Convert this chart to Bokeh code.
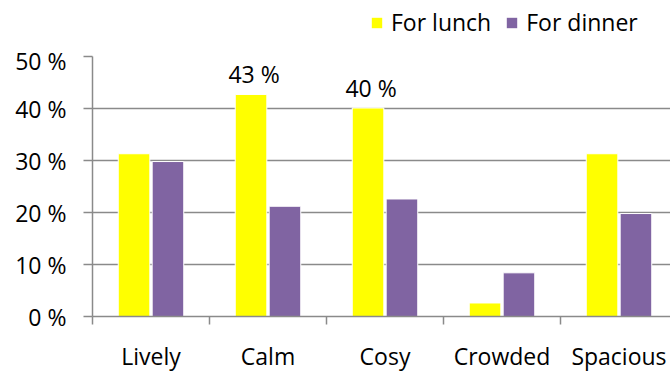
from bokeh.plotting import figure
from bokeh.layouts import column
from bokeh.models import Range1d, FixedTicker, Legend, LegendItem, ColumnDataSource
from bokeh.transform import dodge
from bokeh.core.properties import value
from bokeh.embed import file_html
from bokeh.resources import INLINE

categories = ["Lively", "Calm", "Cosy", "Crowded", "Spacious"]
lunch = [31.3, 42.7, 40.1, 2.6, 31.3]
dinner = [29.8, 21.2, 22.6, 8.4, 19.8]
series_names = ["For lunch", "For dinner"]
y_ticks = [0, 10, 20, 30, 40, 50]
y_tick_labels = ["0 %", "10 %", "20 %", "30 %", "40 %", "50 %"]
label_categories = ["Calm", "Cosy"]
label_values = [42.7, 40.1]
label_texts = ["43 %", "40 %"]

FONT = "Open Sans"
FS = "23px"
GRAY = "#8a8a8a"
YELLOW = "#FFFF00"
PURPLE = "#8064A2"

centers = [categories.index(c) + 0.5 for c in categories]
src = ColumnDataSource(dict(x=centers, lunch=lunch, dinner=dinner))

# ---- main chart ----
p = figure(width=670, height=330, x_range=Range1d(0, 578 / 117), y_range=Range1d(0, 50),
           output_backend="svg", toolbar_location=None,
           min_border_left=92, min_border_right=0, min_border_top=12, min_border_bottom=57)
p.outline_line_color = None
p.background_fill_color = "white"
p.border_fill_color = "white"

p.vbar(x=dodge("x", -0.145, range=p.x_range), top="lunch", width=0.27, source=src,
       fill_color=YELLOW, line_color="white", line_width=1)
p.vbar(x=dodge("x", 0.145, range=p.x_range), top="dinner", width=0.27, source=src,
       fill_color=PURPLE, line_color="white", line_width=1)

lab_src = ColumnDataSource(dict(
    x=[categories.index(c) + 0.5 - 0.145 for c in label_categories],
    y=label_values, t=label_texts))
p.text(x="x", y="y", text="t", source=lab_src, text_align="center", text_baseline="alphabetic",
       x_offset=3, y_offset=-20, text_font=value(FONT), text_font_size=FS, text_color="black")

# y axis
p.yaxis.ticker = FixedTicker(ticks=y_ticks)
p.yaxis.major_label_overrides = {t: l for t, l in zip(y_ticks, y_tick_labels)}
p.yaxis.axis_line_color = GRAY
p.yaxis.axis_line_width = 1.5
p.yaxis.major_tick_line_color = GRAY
p.yaxis.major_tick_line_width = 1.5
p.yaxis.major_tick_out = 9
p.yaxis.major_tick_in = 0
p.yaxis.minor_tick_line_color = None
p.yaxis.major_label_standoff = 17
p.yaxis.major_label_text_font = FONT
p.yaxis.major_label_text_font_size = FS
p.yaxis.major_label_text_color = "black"

# x axis
p.xaxis.ticker = FixedTicker(ticks=centers, minor_ticks=list(range(len(categories) + 1)))
p.xaxis.major_label_overrides = {c: n for c, n in zip(centers, categories)}
p.xaxis.axis_line_color = GRAY
p.xaxis.axis_line_width = 1.5
p.xaxis.major_tick_line_color = None
p.xaxis.major_tick_out = 0
p.xaxis.major_tick_in = 0
p.xaxis.minor_tick_line_color = GRAY
p.xaxis.minor_tick_line_width = 1.5
p.xaxis.minor_tick_out = 8
p.xaxis.minor_tick_in = 0
p.xaxis.major_label_standoff = 15
p.xaxis.major_label_text_font = FONT
p.xaxis.major_label_text_font_size = FS
p.xaxis.major_label_text_color = "black"

p.xgrid.grid_line_color = None
p.ygrid.ticker = FixedTicker(ticks=y_ticks)
p.ygrid.grid_line_color = GRAY
p.ygrid.grid_line_width = 1.5

# ---- legend strip (its frame is aligned with the chart's frame, which starts at x=92) ----
lf = figure(width=670, height=44, x_range=Range1d(0, 1), y_range=Range1d(0, 1),
            x_axis_type=None, y_axis_type=None,
            output_backend="svg", toolbar_location=None,
            min_border_left=0, min_border_right=0, min_border_top=0, min_border_bottom=0)
lf.outline_line_color = None
lf.grid.visible = False
hidden = ColumnDataSource(dict(x=[5], top=[1]))
lr1 = lf.vbar(x="x", top="top", width=0.1, source=hidden, fill_color=YELLOW, line_color=None)
lr2 = lf.vbar(x="x", top="top", width=0.1, source=hidden, fill_color=PURPLE, line_color=None)
legend = Legend(items=[LegendItem(label=series_names[0], renderers=[lr1]),
                       LegendItem(label=series_names[1], renderers=[lr2])],
                orientation="horizontal", location=(278, 6))
legend.border_line_color = None
legend.background_fill_alpha = 0
legend.label_text_font = FONT
legend.label_text_font_size = FS
legend.label_text_color = "black"
legend.glyph_width = 13
legend.glyph_height = 13
legend.label_standoff = 8
legend.spacing = 14
legend.padding = 2
legend.margin = 0
lf.add_layout(legend)

layout = column(lf, p, spacing=0)
open("out.html", "w").write(file_html(layout, INLINE))
